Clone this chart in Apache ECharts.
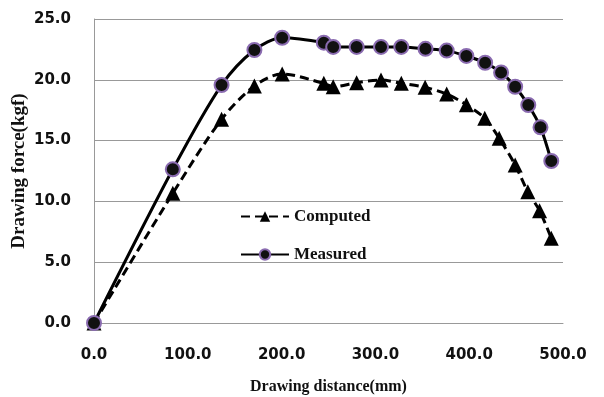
<!DOCTYPE html>
<html><head><meta charset="utf-8">
<script src="https://cdn.jsdelivr.net/npm/echarts@6/dist/echarts.min.js"></script>
<style>html,body{margin:0;padding:0;background:#fff}#c{width:604px;height:397px}</style>
</head><body><div id="c"></div>
<script>
var measuredX = [0, 84, 136, 171, 200.6, 245, 255, 280, 306, 327.6, 353.4, 376, 397, 417, 434, 449, 463, 476, 487.5];
var measuredY = [0, 12.64, 19.57, 22.45, 23.46, 23.05, 22.7, 22.7, 22.7, 22.7, 22.55, 22.4, 21.96, 21.4, 20.6, 19.43, 17.93, 16.09, 13.32];
var computedX = [0, 84, 136, 171, 200.6, 245, 255, 280, 306, 327.6, 353, 376, 397, 416.6, 432, 449, 462.5, 475, 487.5];
var computedY = [0, 10.66, 16.75, 19.49, 20.48, 19.71, 19.43, 19.76, 19.98, 19.71, 19.38, 18.83, 17.95, 16.83, 15.19, 12.99, 10.8, 9.24, 6.97];
var xTicks = [0, 100, 200, 300, 400, 500];
var yTicks = [0, 5, 10, 15, 20, 25];

function pairs(xs, ys){ return xs.map(function(x,i){ return [x, ys[i]]; }); }

var chart = echarts.init(document.getElementById('c'), null, {renderer:'canvas'});
var tickFont = {fontFamily:'DejaVu Sans', fontWeight:'bold', fontSize:15, color:'#111'};
chart.setOption({
  animation:false,
  grid:{left:94, right:41, top:19, bottom:74, outerBoundsMode:'none', containLabel:false},
  legend:{
    orient:'vertical', left:235, top:203, itemWidth:48, itemHeight:13, itemGap:21,
    textStyle:{fontFamily:'Liberation Serif', fontWeight:'bold', fontSize:17, color:'#111'},
    data:['Computed','Measured']
  },
  xAxis:{
    type:'value', min:xTicks[0], max:xTicks[xTicks.length-1], interval:100,
    name:'Drawing distance(mm)', nameLocation:'middle', nameGap:56, nameMoveOverlap:false,
    nameTextStyle:{fontFamily:'Liberation Serif', fontWeight:'bold', fontSize:16, color:'#111'},
    axisLine:{show:true, lineStyle:{color:'#999'}}, axisTick:{show:false},
    splitLine:{show:false},
    axisLabel:Object.assign({margin:25, formatter:function(v){return v.toFixed(1);}}, tickFont)
  },
  yAxis:{
    type:'value', min:yTicks[0], max:yTicks[yTicks.length-1], interval:5,
    name:'Drawing force(kgf)', nameLocation:'middle', nameGap:65, nameMoveOverlap:false,
    nameTextStyle:{fontFamily:'Liberation Serif', fontWeight:'bold', fontSize:19, color:'#111'},
    axisLine:{show:true, lineStyle:{color:'#999'}}, axisTick:{show:false},
    splitLine:{show:true, lineStyle:{color:'#999', width:1}},
    axisLabel:Object.assign({margin:23, formatter:function(v){return v.toFixed(1);}}, tickFont)
  },
  series:[
    {
      name:'Computed', type:'line', smooth:0.3, data:pairs(computedX, computedY),
      symbol:'triangle', symbolSize:15,
      lineStyle:{color:'#000', width:3, type:[9,5]},
      itemStyle:{color:'#000'}
    },
    {
      name:'Measured', type:'line', smooth:0.3, data:pairs(measuredX, measuredY),
      symbol:'circle', symbolSize:14,
      lineStyle:{color:'#000', width:3},
      itemStyle:{color:'#111', borderColor:'#8a6bb0', borderWidth:2}
    }
  ]
});
</script></body></html>
